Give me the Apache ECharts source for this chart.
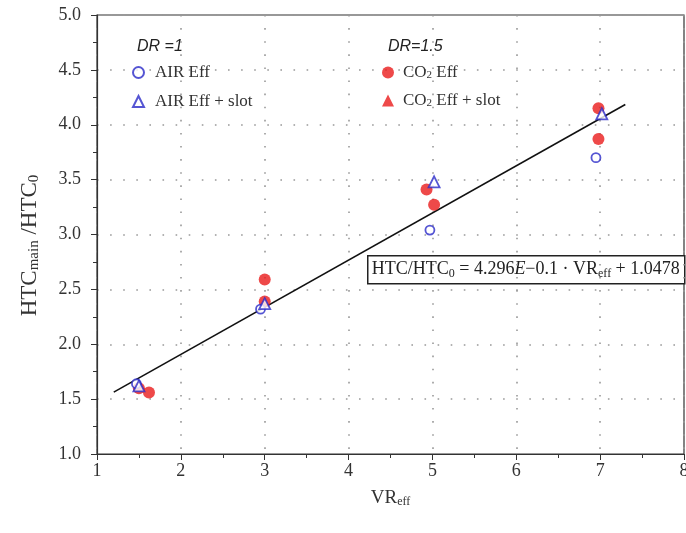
<!DOCTYPE html>
<html>
<head>
<meta charset="utf-8">
<script src="https://cdn.jsdelivr.net/npm/echarts@6/dist/echarts.min.js"></script>
<style>
  html, body { margin: 0; padding: 0; background: #fff; }
  #chart { width: 686px; height: 533px; }
</style>
</head>
<body>
<div id="chart"></div>
<script>
// Measured points: [VR_eff, HTC_main / HTC_0]
const airEff       = [[1.47, 1.64], [2.95, 2.32], [4.97, 3.04], [6.95, 3.70]];
const airEffSlot   = [[1.50, 1.62], [3.00, 2.37], [5.02, 3.48], [7.02, 4.10]];
const co2Eff       = [[1.62, 1.56], [3.00, 2.59], [4.93, 3.41], [6.98, 4.15]];
const co2EffSlot   = [[1.50, 1.60], [3.00, 2.39], [5.02, 3.27], [6.98, 3.87]];

// Linear fit  HTC/HTC0 = 0.4296 * VR_eff + 1.0478, drawn over this VR range
const fitSlope = 0.4296;
const fitIntercept = 1.0478;
const fitRange = [1.2, 7.3];
const fitLine = fitRange.map(x => [x, fitSlope * x + fitIntercept]);

const yTicks = { min: 1, max: 5, step: 0.5 };
const xTicks = { min: 1, max: 8, step: 1 };

const BLUE = '#2b2bc8';
const RED = '#ea1c1c';
const SERIF = '"Liberation Serif", "DejaVu Serif", serif';

const subRich = (size, drop) => ({
  sub: { fontFamily: SERIF, fontSize: size, verticalAlign: 'bottom', padding: [drop, 0, 0, 0], color: '#333' }
});

const chart = echarts.init(document.getElementById('chart'));

const openStyle = (c) => ({ color: '#fff', borderColor: c, borderWidth: 1.8 });

chart.setOption({
  animation: false,
  grid: {
    left: 97, right: 2, top: 15, bottom: 79, outerBoundsMode: 'none', containLabel: false,
    show: true, borderColor: '#333', borderWidth: 1.2, backgroundColor: 'transparent'
  },
  xAxis: {
    type: 'value', min: xTicks.min, max: xTicks.max, interval: xTicks.step,
    name: 'VR{sub|eff}', nameLocation: 'middle', nameGap: 34,
    nameTextStyle: { fontFamily: SERIF, fontSize: 19, color: '#333', rich: subRich(12, 8) },
    axisLine: { lineStyle: { color: '#333', width: 1.2 } },
    axisTick: { show: true, inside: false, length: 6, lineStyle: { color: '#333' } },
    minorTick: { show: true, splitNumber: 2, length: 4, lineStyle: { color: '#333' } },
    axisLabel: { fontFamily: SERIF, fontSize: 18, color: '#333', margin: 8 },
    splitLine: { show: true, lineStyle: { color: '#999', width: 1.6, type: [1.6, 11.5] } }
  },
  yAxis: {
    type: 'value', min: yTicks.min, max: yTicks.max, interval: yTicks.step,
    name: 'HTC{sub|main} /HTC{sub|0}', nameLocation: 'middle', nameGap: 55,
    nameTextStyle: { fontFamily: SERIF, fontSize: 23, color: '#333', rich: subRich(15, 10),
                     padding: [0, 22, 0, 0] },
    axisLine: { lineStyle: { color: '#333', width: 1.2 } },
    axisTick: { show: true, inside: false, length: 6, lineStyle: { color: '#333' } },
    minorTick: { show: true, splitNumber: 2, length: 4, lineStyle: { color: '#333' } },
    axisLabel: { fontFamily: SERIF, fontSize: 18, color: '#333', margin: 16,
                 formatter: v => v.toFixed(1) },
    splitLine: { show: true, lineStyle: { color: '#999', width: 1.6, type: [1.6, 11.5] } }
  },
  legend: [
    {
      orient: 'vertical', left: 127, top: 59, itemWidth: 11, itemHeight: 11, itemGap: 12,
      textStyle: { fontFamily: SERIF, fontSize: 17, color: '#333', lineHeight: 17, padding: [0, 0, 0, 6] },
      data: ['AIR Eff', 'AIR Eff + slot']
    },
    {
      orient: 'vertical', left: 377, top: 59, itemWidth: 12, itemHeight: 12, itemGap: 11,
      textStyle: { fontFamily: SERIF, fontSize: 17, color: '#333', lineHeight: 17, padding: [0, 0, 0, 4],
                   rich: subRich(11, 8) },
      formatter: n => n.replace('CO2', 'CO{sub|2}'),
      data: [{ name: 'CO2 Eff', icon: 'circle' }, { name: 'CO2 Eff + slot', icon: 'triangle' }]
    }
  ],
  graphic: [
    { type: 'text', left: 137, top: 39,
      style: { text: 'DR =1', font: 'italic 16px "Liberation Sans", sans-serif', fill: '#222' } },
    { type: 'text', left: 388, top: 39,
      style: { text: 'DR=1.5', font: 'italic 16px "Liberation Sans", sans-serif', fill: '#222' } },
    {
      type: 'group', left: 367, top: 255, z: 100,
      children: [
        { type: 'rect', shape: { x: 0, y: 0, width: 317, height: 28 },
          style: { fill: '#fff', stroke: '#222', lineWidth: 1.5 } },
        { type: 'text', x: 158, y: 14,
          style: {
            text: 'HTC/HTC{s|0} = 4.296{i|E}\u22120.1 \u00b7 VR{s|eff} + 1.0478',
            align: 'center', verticalAlign: 'middle',
            font: '18px "Liberation Serif", serif', fill: '#222',
            rich: {
              s: { font: '12px "Liberation Serif", serif', fill: '#222', padding: [9, 0, 0, 0] },
              i: { font: 'italic 18px "Liberation Serif", serif', fill: '#222' }
            }
          } }
      ]
    }
  ],
  series: [
    { name: 'Fit', type: 'line', data: fitLine, showSymbol: false, symbol: 'none',
      lineStyle: { color: '#111', width: 1.6 }, z: 1, silent: true },
    { name: 'CO2 Eff + slot', type: 'scatter', data: co2EffSlot, symbol: 'circle', symbolSize: 12,
      itemStyle: { color: RED }, z: 2 },
    { name: 'CO2 Eff', type: 'scatter', data: co2Eff, symbol: 'circle', symbolSize: 12,
      itemStyle: { color: RED }, z: 3 },
    { name: 'AIR Eff', type: 'scatter', data: airEff, symbol: 'circle', symbolSize: 9,
      itemStyle: openStyle(BLUE), z: 4 },
    { name: 'AIR Eff + slot', type: 'scatter', data: airEffSlot, symbol: 'triangle', symbolSize: 11,
      itemStyle: openStyle(BLUE), z: 5 }
  ]
});
</script>
</body>
</html>
